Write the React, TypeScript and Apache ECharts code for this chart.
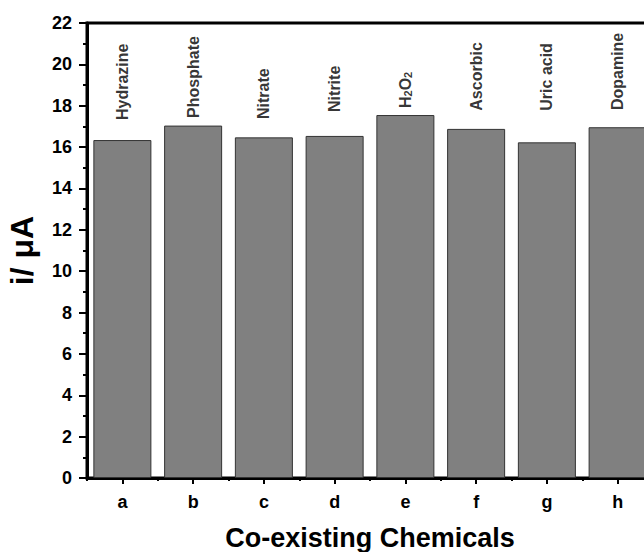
import React, { useEffect, useRef } from "react";
import * as echarts from "echarts";

const categories = ["a", "b", "c", "d", "e", "f", "g", "h"];
const chemicals = ["Hydrazine", "Phosphate", "Nitrate", "Nitrite", "H{sub|2}O{sub|2}", "Ascorbic", "Uric acid", "Dopamine"];
const currents = [16.34, 17.04, 16.47, 16.54, 17.55, 16.88, 16.23, 16.96];
const labelLevels = [17.31, 17.41, 17.36, 17.7, 17.89, 17.76, 17.76, 17.79];
const yTicks = { min: 0, max: 22, interval: 2 };

const FONT = "'Liberation Sans', Arial, sans-serif";

export default function App() {
  const ref = useRef<HTMLDivElement>(null);
  useEffect(() => {
    if (!ref.current) return;
    const chart = echarts.init(ref.current, undefined, { renderer: "svg" });
    chart.setOption({
      animation: false,
      backgroundColor: "#ffffff",
      textStyle: { fontFamily: FONT },
      grid: {
        left: 87,
        top: 23,
        bottom: 74,
        width: 566,
        show: true,
        borderColor: "#000",
        borderWidth: 3,
        containLabel: false,
        outerBoundsMode: "none",
      },
      xAxis: [
        {
          type: "category",
          data: categories,
          position: "bottom",
          name: "Co-existing Chemicals",
          nameLocation: "middle",
          nameGap: 46,
          nameTextStyle: { fontSize: 27, fontWeight: "bold", color: "#000", fontFamily: FONT },
          axisLine: { show: true, lineStyle: { color: "#000", width: 3 } },
          axisTick: { show: true, alignWithLabel: true, length: 6, lineStyle: { color: "#000", width: 2 } },
          axisLabel: { show: true, margin: 15, fontSize: 18, fontWeight: "bold", color: "#000", fontFamily: FONT },
          splitLine: { show: false },
        },
        {
          type: "category",
          data: categories,
          position: "bottom",
          axisLine: { show: false },
          axisTick: { show: true, length: 3, lineStyle: { color: "#000", width: 2 } },
          axisLabel: { show: false },
          splitLine: { show: false },
        },
      ],
      yAxis: {
        type: "value",
        min: yTicks.min,
        max: yTicks.max,
        interval: yTicks.interval,
        name: "i/ \u03bcA",
        nameLocation: "middle",
        nameGap: 49,
        nameRotate: 90,
        nameTextStyle: { fontSize: 32, fontWeight: "bold", color: "#000", fontFamily: FONT },
        axisLine: { show: true, lineStyle: { color: "#000", width: 3 } },
        axisTick: { show: true, length: 8, lineStyle: { color: "#000", width: 2 } },
        minorTick: { show: true, splitNumber: 2, length: 4, lineStyle: { color: "#000", width: 2 } },
        axisLabel: { margin: 15, fontSize: 18, fontWeight: "bold", color: "#000", fontFamily: FONT },
        splitLine: { show: false },
      },
      series: [
        {
          type: "bar",
          xAxisIndex: 0,
          data: currents,
          barCategoryGap: "18%",
          itemStyle: { color: "#808080", borderColor: "#333333", borderWidth: 1 },
        },
        {
          type: "scatter",
          xAxisIndex: 0,
          data: labelLevels,
          symbolSize: 0,
          silent: true,
          label: {
            show: true,
            position: "top",
            distance: 0,
            rotate: 90,
            align: "left",
            verticalAlign: "middle",
            fontSize: 16,
            fontWeight: "bold",
            color: "#000",
            fontFamily: FONT,
            formatter: (p: any) => chemicals[p.dataIndex],
            rich: {
              sub: { fontSize: 11, fontWeight: "bold", color: "#000", verticalAlign: "bottom", padding: [6, 0, 0, 0], fontFamily: FONT },
            },
          },
        },
      ],
    });
    return () => chart.dispose();
  }, []);
  return <div ref={ref} style={{ position: "fixed", left: 0, top: 0, width: 644, height: 552 }} />;
}
